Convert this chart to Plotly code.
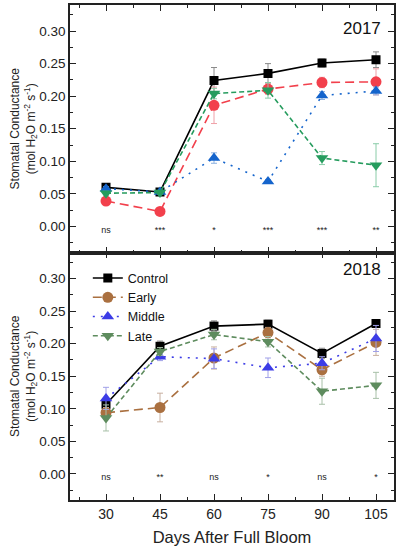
import plotly.graph_objects as go
from plotly.subplots import make_subplots

days = [30, 45, 60, 75, 90, 105]
series = ["Control", "Early", "Middle", "Late"]

# 2017 values and SE
c17 = [0.060, 0.053, 0.224, 0.235, 0.251, 0.256]
c17e = [0.003, 0.002, 0.020, 0.015, 0.006, 0.012]
e17 = [0.039, 0.023, 0.186, 0.211, 0.221, 0.222]
e17e = [0.003, 0.002, 0.028, 0.008, 0.008, 0.020]
m17 = [0.058, 0.053, 0.105, 0.069, 0.201, 0.208]
m17e = [0.003, 0.002, 0.008, 0.003, 0.006, 0.006]
l17 = [0.051, 0.052, 0.204, 0.209, 0.105, 0.094]
l17e = [0.003, 0.002, 0.008, 0.012, 0.010, 0.033]
sig17 = ["ns", "***", "*", "***", "***", "**"]

# 2018 values and SE
c18 = [0.107, 0.196, 0.227, 0.230, 0.185, 0.231]
c18e = [0.008, 0.008, 0.008, 0.006, 0.008, 0.004]
e18 = [0.094, 0.102, 0.178, 0.217, 0.160, 0.202]
e18e = [0.008, 0.022, 0.017, 0.008, 0.010, 0.020]
m18 = [0.116, 0.180, 0.177, 0.163, 0.170, 0.208]
m18e = [0.017, 0.006, 0.015, 0.015, 0.010, 0.020]
l18 = [0.086, 0.188, 0.214, 0.203, 0.127, 0.136]
l18e = [0.020, 0.006, 0.008, 0.008, 0.020, 0.020]
sig18 = ["ns", "**", "ns", "*", "ns", "*"]

yticks = [0.00, 0.05, 0.10, 0.15, 0.20, 0.25, 0.30]

FONT = "Liberation Sans, Arial, sans-serif"

fig = make_subplots(rows=2, cols=1, shared_xaxes=False, vertical_spacing=0)

styles17 = [
    ("Control", c17, c17e, "#000000", "#8a8a8a", "solid", "square", 9),
    ("Early", e17, e17e, "#f2404c", "#f0a0a8", "9px,5px", "circle", 11),
    ("Middle", m17, m17e, "#1464cc", "#8ab0e0", "2px,6px", "triangle-up", 11),
    ("Late", l17, l17e, "#269c5e", "#8acca8", "5px,3px", "triangle-down", 11),
]
styles18 = [
    ("Control", c18, c18e, "#000000", "#8a8a8a", "solid", "square", 9),
    ("Early", e18, e18e, "#aa7040", "#c8b0a0", "9px,5px", "circle", 11),
    ("Middle", m18, m18e, "#3c3ce6", "#a0a0e8", "2px,6px", "triangle-up", 11),
    ("Late", l18, l18e, "#5e8c5e", "#a8c0a8", "5px,3px", "triangle-down", 11),
]

for row, styles, showleg in [(1, styles17, False), (2, styles18, True)]:
    for name, vals, errs, col, ecol, dash, sym, msz in styles:
        fig.add_trace(go.Scatter(
            x=days, y=vals, name=name, mode="lines+markers",
            line=dict(color=col, width=1.6, dash=dash),
            marker=dict(color=col, symbol=sym, size=msz),
            error_y=dict(type="data", array=errs, color=ecol, thickness=1, width=3),
            showlegend=showleg,
        ), row=row, col=1)

for row, sig in [(1, sig17), (2, sig18)]:
    fig.add_trace(go.Scatter(
        x=days, y=[-0.006] * len(days), mode="text", text=sig,
        textfont=dict(size=9, color="#222222", family=FONT),
        showlegend=False, hoverinfo="skip",
    ), row=row, col=1)

axis_common = dict(
    showline=True, linecolor="#222222", linewidth=1.5, mirror="ticks",
    ticks="inside", ticklen=6, tickwidth=1.2, tickcolor="#222222",
    showgrid=False, zeroline=False, automargin=False,
)
domains = {1: [0.5, 1.0], 2: [0.0, 0.5]}
for row in (1, 2):
    fig.update_xaxes(
        range=[20, 110], tickmode="array", tickvals=days,
        ticktext=[str(d) for d in days], showticklabels=(row == 2),
        minor=dict(ticks="inside", ticklen=3, tickwidth=1, tickcolor="#222222", dtick=7.5, tick0=22.5),
        tickfont=dict(size=14, family=FONT, color="#222222"),
        domain=[0, 1],
        row=row, col=1, **axis_common)
    fig.update_yaxes(
        range=[-0.04, 0.34], tickmode="array", tickvals=yticks,
        ticktext=["%.2f" % v for v in yticks],
        minor=dict(ticks="inside", ticklen=3, tickwidth=1, tickcolor="#222222", dtick=0.025, tick0=-0.025),
        tickfont=dict(size=13.5, family=FONT, color="#222222"),
        title=dict(text="Stomatal Conductance<br>(mol H<sub>2</sub>O m<sup>-2</sup> s<sup>-1</sup>)",
                   font=dict(size=12, family=FONT, color="#222222"), standoff=0),
        domain=domains[row],
        row=row, col=1, **axis_common)

fig.update_xaxes(title=dict(text="Days After Full Bloom", font=dict(size=16.5, family=FONT, color="#222222"), standoff=11), row=2, col=1)

fig.add_annotation(text="2017", xref="x domain", yref="y domain", x=0.965, y=0.905,
                   xanchor="right", yanchor="middle", showarrow=False,
                   font=dict(size=17, family=FONT, color="#111111"))
fig.add_annotation(text="2018", xref="x2 domain", yref="y2 domain", x=0.965, y=0.93,
                   xanchor="right", yanchor="middle", showarrow=False,
                   font=dict(size=17, family=FONT, color="#111111"))

fig.update_layout(
    width=398, height=550,
    margin=dict(l=70, r=4, t=5, b=50),
    paper_bgcolor="white", plot_bgcolor="white",
    font=dict(family=FONT, color="#222222"),
    legend=dict(x=0.055, y=0.478, xanchor="left", yanchor="top",
                bgcolor="rgba(0,0,0,0)", font=dict(size=12.5, family=FONT, color="#111111"),
                itemwidth=30, tracegroupgap=0),
)

fig.write_html("out.html", config={"displayModeBar": False},
               post_script="document.body.style.margin='0px';")
